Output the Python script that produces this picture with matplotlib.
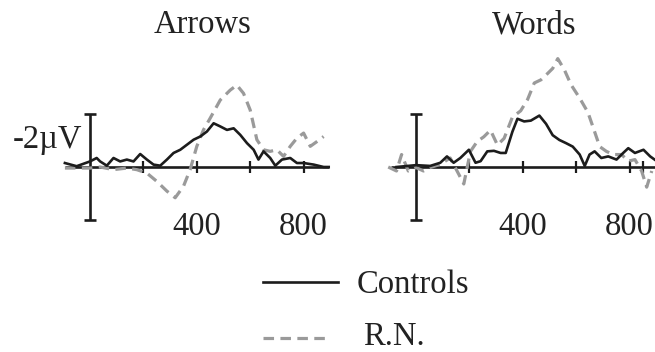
import matplotlib
matplotlib.use('Agg')
import matplotlib.pyplot as plt
from matplotlib.lines import Line2D

plt.rcParams['font.family'] = ['Liberation Serif', 'DejaVu Serif']

# ERP waveforms, microvolts (negative plotted up)
arrows_ctrl_t = [-94, -50, 0, 25, 38, 63, 88, 113, 138, 163, 188, 213, 238, 263, 288, 313, 338,
                 363, 388, 413, 438, 463, 488, 513, 538, 563, 588, 613, 631, 650, 675, 694, 719,
                 750, 775, 800, 838, 875, 894]
arrows_ctrl_v = [-0.15, -0.03, -0.21, -0.34, -0.21, -0.05, -0.34, -0.21, -0.28, -0.21, -0.49,
                 -0.28, -0.09, -0.05, -0.28, -0.53, -0.65, -0.84, -1.03, -1.15, -1.34, -1.65,
                 -1.53, -1.40, -1.46, -1.21, -0.90, -0.65, -0.28, -0.59, -0.34, -0.05, -0.28,
                 -0.34, -0.15, -0.15, -0.09, 0.0, 0.0]

arrows_rn_t = [-94, -50, 0, 38, 88, 138, 175, 213, 250, 288, 319, 350, 375, 400, 425, 450, 488,
               525, 550, 575, 600, 625, 650, 675, 700, 725, 750, 775, 800, 825, 850, 875]
arrows_rn_v = [0.04, 0.04, 0.04, 0.0, 0.10, 0.04, 0.10, 0.23, 0.54, 0.91, 1.16, 0.73, 0.10,
               -0.78, -1.40, -1.84, -2.53, -2.90, -3.09, -2.78, -2.15, -1.03, -0.65, -0.59,
               -0.65, -0.40, -0.78, -1.09, -1.28, -0.78, -0.96, -1.15]

words_ctrl_t = [-73, 0, 53, 91, 116, 141, 166, 198, 223, 242, 267, 292, 317, 336, 361, 380, 405,
                430, 462, 487, 512, 537, 562, 587, 613, 632, 650, 669, 694, 720, 751, 776, 795,
                820, 852, 877, 902]
words_ctrl_v = [0.0, -0.07, -0.04, -0.16, -0.40, -0.16, -0.34, -0.65, -0.16, -0.22, -0.59,
                -0.61, -0.53, -0.53, -1.33, -1.82, -1.72, -1.75, -1.94, -1.63, -1.20, -1.02,
                -0.90, -0.77, -0.47, -0.04, -0.47, -0.59, -0.34, -0.40, -0.28, -0.53, -0.71,
                -0.53, -0.65, -0.40, -0.22]

words_rn_t = [-104, -73, -54, -29, 0, 28, 53, 91, 128, 160, 179, 204, 229, 254, 279, 305, 330,
              361, 392, 418, 443, 468, 493, 512, 531, 556, 581, 613, 644, 669, 688, 713, 738,
              770, 795, 820, 845, 864, 883]
words_rn_v = [0.0, 0.15, -0.47, 0.15, 0.02, 0.15, 0.02, -0.10, -0.34, 0.27, 0.64, -0.59, -0.96,
              -1.14, -1.39, -0.83, -1.08, -1.88, -2.12, -2.55, -3.17, -3.29, -3.53, -3.72,
              -4.09, -3.66, -3.10, -2.60, -2.06, -1.33, -0.77, -0.59, -0.47, -0.47, -0.22,
              -0.28, 0.15, 0.76, 0.15]

titles = ['Arrows', 'Words']
tick_ms = [[200, 400, 600, 800], [200, 400, 600, 800, 850]]
tick_labels = ['400', '800']

W, H = 655, 352
fig = plt.figure(figsize=(W / 100, H / 100), dpi=100)

ctrl_color = '#1c1c1c'
rn_color = '#9a9a9a'
fs = 23.5

def make_panel(x0_px, t_c, v_c, t_r, v_r, ticks, title, title_x, show_ylabel):
    # x: 0.267 px per ms; y: 26.5 px per uV, zero at 167 px from top
    xl, xr = -110, 910
    yt, yb = -4.5, 2.5
    left = x0_px + xl * 0.267
    width = (xr - xl) * 0.267
    top = 167 + yt * 26.5
    height = (yb - yt) * 26.5
    ax = fig.add_axes([left / W, 1 - (top + height) / H, width / W, height / H])
    ax.set_xlim(xl, xr)
    ax.set_ylim(yb, yt)
    ax.axis('off')

    # axes
    ax.plot([-95, 895], [0, 0], color=ctrl_color, lw=1.9, solid_capstyle='butt', zorder=2)
    ax.vlines(ticks, -0.23, 0.23, color=ctrl_color, lw=1.6, zorder=2)
    ax.vlines(0, -2, 2, color=ctrl_color, lw=1.9, zorder=2)
    ax.hlines([-2, 2], -24, 24, color=ctrl_color, lw=1.9, zorder=2)

    ax.plot(t_r, v_r, color=rn_color, lw=2.3, dashes=(3.3, 2.0), zorder=3)
    ax.plot(t_c, v_c, color=ctrl_color, lw=1.9, zorder=4)

    for lab in tick_labels:
        ax.text(float(lab), 2.57, lab, ha='center', va='baseline', fontsize=fs,
                color='#222222', clip_on=False)
    if show_ylabel:
        ax.text(-30, -0.72, '-2\u00b5V', ha='right', va='baseline', fontsize=fs,
                color='#222222', clip_on=False)
    fig.text(title_x / W, 1 - 33 / H, title, ha='center', va='baseline', fontsize=fs,
             color='#222222')
    return ax

make_panel(90, arrows_ctrl_t, arrows_ctrl_v, arrows_rn_t, arrows_rn_v, tick_ms[0],
           titles[0], 202, True)
make_panel(416, words_ctrl_t, words_ctrl_v, words_rn_t, words_rn_v, tick_ms[1],
           titles[1], 534, False)

# legend
fig.add_artist(Line2D([263 / W, 338 / W], [1 - 282 / H, 1 - 282 / H], color=ctrl_color,
                      lw=1.9, transform=fig.transFigure))
fig.text(357 / W, 1 - 293 / H, 'Controls', ha='left', va='baseline', fontsize=fs,
         color='#222222')
fig.add_artist(Line2D([263 / W, 330 / W], [1 - 338 / H, 1 - 338 / H], color=rn_color,
                      lw=2.3, dashes=(3.3, 2.0), transform=fig.transFigure))
fig.text(363 / W, 1 - 345 / H, 'R.N.', ha='left', va='baseline', fontsize=fs,
         color='#222222')

fig.savefig('out.png', dpi=100, facecolor='white')
